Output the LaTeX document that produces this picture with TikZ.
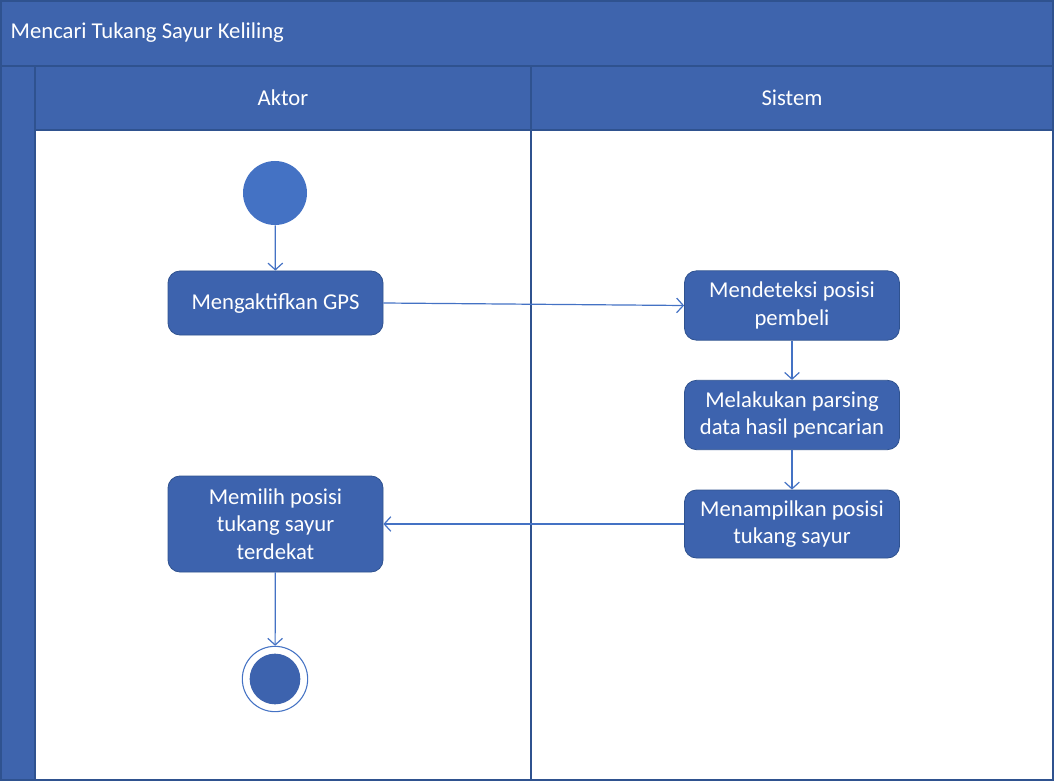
\documentclass[tikz,border=0pt]{standalone}
\usepackage{fontspec}
\setmainfont{Carlito}
\usetikzlibrary{arrows.meta,positioning}
\definecolor{laneblue}{RGB}{62,100,173}
\definecolor{boxblue}{RGB}{61,99,174}
\definecolor{dotblue}{RGB}{68,114,196}
\definecolor{edgeblue}{RGB}{47,82,143}
\begin{document}
\begin{tikzpicture}[x=0.75pt,y=-0.75pt,
  lanehead/.style={fill=laneblue,draw=edgeblue,line width=0.9pt},
  activity/.style={rectangle,rounded corners=9pt,fill=boxblue,draw=edgeblue,line width=0.6pt,
    text=white,align=center,minimum width=161.25pt,font=\fontsize{17}{20.5}\selectfont},
  flow/.style={draw=dotblue,line width=0.9pt,-{Straight Barb[length=5pt,width=11pt]}}]
\useasboundingbox (0,0) rectangle (1054,781);

% swimlane frame
\draw[lanehead] (1,1) rectangle (1053,66);
\draw[lanehead] (1,66) rectangle (35,780);
\draw[lanehead] (35,66) rectangle (531,130);
\draw[lanehead] (531,66) rectangle (1053,130);
\draw[edgeblue,line width=0.9pt] (35,130) rectangle (1053,780);
\draw[edgeblue,line width=1.2pt] (531,130) -- (531,780);
\node[anchor=west,text=white,font=\fontsize{17}{20}\selectfont] (judul) at (6,33) {Mencari Tukang Sayur Keliling};
\node[text=white,font=\fontsize{17}{20}\selectfont] (aktor) at (283,98) {Aktor};
\node[text=white,font=\fontsize{17}{20}\selectfont] (sistem) at (792,98) {Sistem};

% start and end
\node[circle,fill=dotblue,minimum size=48pt,inner sep=0pt] (mulai) at (275,193) {};
\node[circle,draw=dotblue,line width=0.8pt,fill=white,minimum size=49pt,inner sep=0pt] (selesai) at (275,679) {};
\fill[boxblue] (selesai.center) circle (19pt);

% activities
\node[activity,minimum height=48pt] (gps) at (275.5,303) {Mengaktifkan GPS};
\node[activity,minimum height=52pt] (deteksi) at (792,305.5) {Mendeteksi posisi\\pembeli};
\node[activity,minimum height=52pt] (parsing) at (792,415) {Melakukan parsing\\data hasil pencarian};
\node[activity,minimum height=51pt] (tampil) at (792,524) {Menampilkan posisi\\tukang sayur};
\node[activity,minimum height=72pt] (pilih) at (275.5,524) {Memilih posisi\\tukang sayur\\terdekat};

% flows
\draw[flow] (mulai) -- (gps);
\draw[flow] (gps.east) -- (deteksi.west);
\draw[flow] (deteksi) -- (parsing);
\draw[flow] (parsing) -- (tampil);
\draw[flow] (tampil.west) -- (pilih.east);
\draw[flow] (pilih) -- (selesai);
\end{tikzpicture}
\end{document}
